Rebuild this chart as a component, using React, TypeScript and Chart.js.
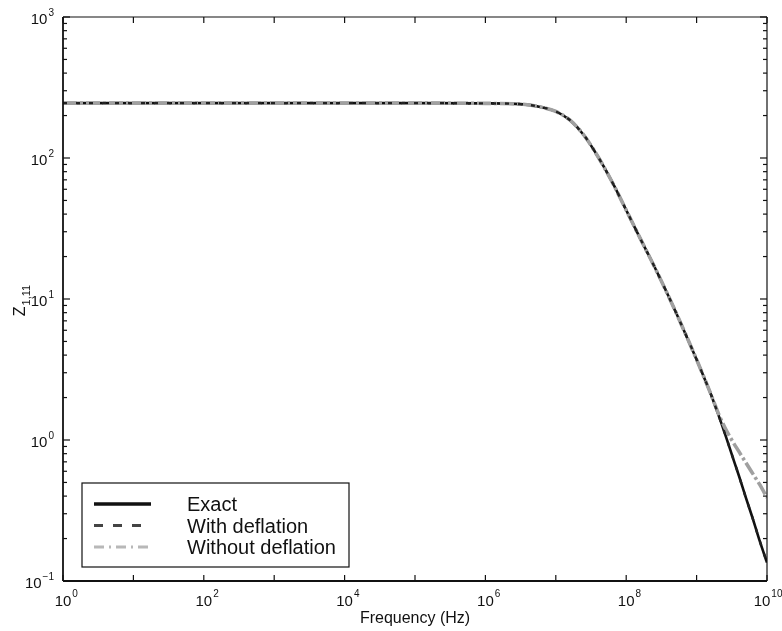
import React, { useEffect, useRef } from "react";
import { Chart, registerables } from "chart.js";

Chart.register(...registerables);

// Frequency grid (Hz)
const frequencies = [
  1, 10, 100, 1000, 1e4, 1e5, 1e6, 3.16e6, 6.31e6, 1e7, 1.58e7, 2.51e7, 3.98e7,
  6.31e7, 1e8, 1.58e8, 2.51e8, 3.98e8, 6.31e8, 1e9, 1.26e9, 1.58e9, 2.0e9,
  2.51e9, 3.16e9, 3.98e9, 5.01e9, 6.31e9, 7.94e9, 1e10,
];

// Z_1,11 values
const exactZ = [
  245, 245, 245, 245, 245, 245, 244, 241, 229, 214, 186, 145, 102, 67.6, 42.7,
  26.9, 17.0, 10.5, 6.31, 3.72, 2.82, 2.14, 1.55, 1.12, 0.79, 0.56, 0.39, 0.275,
  0.19, 0.135,
];
const withDeflationZ = [
  245, 245, 245, 245, 245, 245, 244, 241, 229, 214, 186, 145, 102, 67.6, 42.7,
  26.9, 17.0, 10.5, 6.31, 3.72, 2.82, 2.14, 1.55, 1.12, 0.79, 0.56, 0.39, 0.275,
  0.19, 0.135,
];
const withoutDeflationZ = [
  245, 245, 245, 245, 245, 245, 244, 241, 229, 214, 186, 145, 102, 67.6, 42.7,
  26.9, 17.0, 10.5, 6.31, 3.72, 2.82, 2.14, 1.58, 1.23, 1.0, 0.83, 0.69, 0.575,
  0.48, 0.39,
];

const seriesLabels = ["Exact", "With deflation", "Without deflation"];

// Axis tick definitions (exponents of 10)
const xDecadeExponents = [0, 1, 2, 3, 4, 5, 6, 7, 8, 9, 10];
const xLabelExponents = [0, 2, 4, 6, 8, 10];
const yDecadeExponents = [-1, 0, 1, 2, 3];
const yMinorMultipliers = [2, 3, 4, 5, 6, 7, 8, 9];
const xTitle = "Frequency (Hz)";
const yTitleMain = "Z";
const yTitleSub = "1,11";

const FONT = "'Liberation Sans', Arial, Helvetica, sans-serif";

const legendStyles = [
  { color: "#111", width: 3.5, dash: [] as number[] },
  { color: "#444", width: 3, dash: [9, 10] },
  { color: "#b8b8b8", width: 3, dash: [10, 5, 2, 5] },
];

const paperAxes = {
  id: "paperAxes",
  afterDatasetsDraw(chart: any) {
    const ctx: CanvasRenderingContext2D = chart.ctx;
    const { left, right, top, bottom } = chart.chartArea;
    const xs = chart.scales.x;
    const ys = chart.scales.y;
    ctx.save();
    ctx.strokeStyle = "#111";
    ctx.fillStyle = "#111";
    const line = (x1: number, y1: number, x2: number, y2: number) => {
      ctx.beginPath();
      ctx.moveTo(x1, y1);
      ctx.lineTo(x2, y2);
      ctx.stroke();
    };
    // frame
    ctx.lineWidth = 1.8;
    line(left, top, left, bottom);
    line(left, bottom, right, bottom);
    ctx.lineWidth = 1.2;
    line(left, top, right, top);
    line(right, top, right, bottom);

    // x ticks
    ctx.lineWidth = 1.2;
    for (const e of xDecadeExponents) {
      const px = xs.getPixelForValue(Math.pow(10, e));
      line(px, bottom, px, bottom - 6);
      line(px, top, px, top + 6);
    }
    // y ticks
    for (const e of yDecadeExponents) {
      const base = Math.pow(10, e);
      const py = ys.getPixelForValue(base);
      line(left, py, left + 7, py);
      line(right, py, right - 7, py);
      if (e < 3) {
        for (const m of yMinorMultipliers) {
          const pm = ys.getPixelForValue(m * base);
          line(left, pm, left + 4, pm);
          line(right, pm, right - 4, pm);
        }
      }
    }

    // tick labels
    ctx.textBaseline = "alphabetic";
    for (const e of xLabelExponents) {
      let px = xs.getPixelForValue(Math.pow(10, e));
      if (e === 10) px -= 5;
      ctx.font = `15px ${FONT}`;
      ctx.textAlign = "center";
      const w = ctx.measureText("10").width;
      ctx.fillText("10", px, bottom + 25);
      ctx.font = `10px ${FONT}`;
      ctx.textAlign = "left";
      ctx.fillText(String(e), px + w / 2 + 1, bottom + 16);
    }
    for (const e of yDecadeExponents) {
      const py = ys.getPixelForValue(Math.pow(10, e));
      const sup = e < 0 ? "\u22121" : String(e);
      ctx.font = `10px ${FONT}`;
      const sw = ctx.measureText(sup).width;
      ctx.textAlign = "left";
      const supX = left - 9 - sw;
      ctx.fillText(sup, supX, py - 1);
      ctx.font = `15px ${FONT}`;
      ctx.textAlign = "right";
      ctx.fillText("10", supX - 1, py + 7);
    }

    // x title
    ctx.font = `16px ${FONT}`;
    ctx.textAlign = "center";
    ctx.fillText(xTitle, (left + right) / 2, bottom + 42);

    // y title (rotated, with subscript)
    ctx.save();
    ctx.translate(25, (top + bottom) / 2 + 2);
    ctx.rotate(-Math.PI / 2);
    ctx.font = `16px ${FONT}`;
    const zw = ctx.measureText(yTitleMain).width;
    ctx.font = `11px ${FONT}`;
    const subw = ctx.measureText(yTitleSub).width;
    const startX = -(zw + subw) / 2;
    ctx.textAlign = "left";
    ctx.font = `16px ${FONT}`;
    ctx.fillText(yTitleMain, startX, 0);
    ctx.font = `11px ${FONT}`;
    ctx.fillText(yTitleSub, startX + zw + 1, 5);
    ctx.restore();

    // legend
    const lx = 82, ly = 483, lw = 267, lh = 84;
    ctx.fillStyle = "#fff";
    ctx.fillRect(lx, ly, lw, lh);
    ctx.strokeStyle = "#111";
    ctx.lineWidth = 1.2;
    ctx.strokeRect(lx, ly, lw, lh);
    const rows = [504, 525.5, 547];
    chart.data.datasets.forEach((ds: any, i: number) => {
      const st = legendStyles[i];
      ctx.strokeStyle = st.color;
      ctx.lineWidth = st.width;
      ctx.setLineDash(st.dash);
      line(94, rows[i], 151, rows[i]);
      ctx.setLineDash([]);
      ctx.fillStyle = "#111";
      ctx.font = `20px ${FONT}`;
      ctx.textAlign = "left";
      ctx.fillText(ds.label, 187, rows[i] + 7);
    });
    ctx.restore();
  },
};

export default function App() {
  const canvasRef = useRef<HTMLCanvasElement | null>(null);

  useEffect(() => {
    const canvas = canvasRef.current;
    if (!canvas) return;
    const toPoints = (vals: number[]) =>
      frequencies.map((f, i) => ({ x: f, y: vals[i] }));
    const chart = new Chart(canvas, {
      type: "line",
      data: {
        datasets: [
          {
            label: seriesLabels[0],
            data: toPoints(exactZ),
            borderColor: "#111",
            borderWidth: 2.6,
            pointRadius: 0,
            cubicInterpolationMode: "monotone",
            order: 3,
          },
          {
            label: seriesLabels[1],
            data: toPoints(withDeflationZ),
            borderColor: "#222",
            borderWidth: 2.4,
            borderDash: [4, 9],
            pointRadius: 0,
            cubicInterpolationMode: "monotone",
            order: 1,
          },
          {
            label: seriesLabels[2],
            data: toPoints(withoutDeflationZ),
            borderColor: "#a0a0a0",
            borderWidth: 3.6,
            borderDash: [14, 3, 3, 3],
            pointRadius: 0,
            cubicInterpolationMode: "monotone",
            order: 2,
          },
        ],
      },
      options: {
        animation: false,
        responsive: false,
        maintainAspectRatio: false,
        layout: { padding: { left: 63, right: 15, top: 17, bottom: 50 } },
        plugins: {
          legend: { display: false },
          tooltip: { enabled: false },
          title: { display: false },
        },
        scales: {
          x: { type: "logarithmic", min: 1, max: 1e10, display: false },
          y: { type: "logarithmic", min: 0.1, max: 1000, display: false },
        },
      },
      plugins: [paperAxes],
    });
    return () => chart.destroy();
  }, []);

  return (
    <div style={{ position: "fixed", left: 0, top: 0, width: 782, height: 631, background: "#fff" }}>
      <canvas ref={canvasRef} width={782} height={631} style={{ width: 782, height: 631 }} />
    </div>
  );
}
